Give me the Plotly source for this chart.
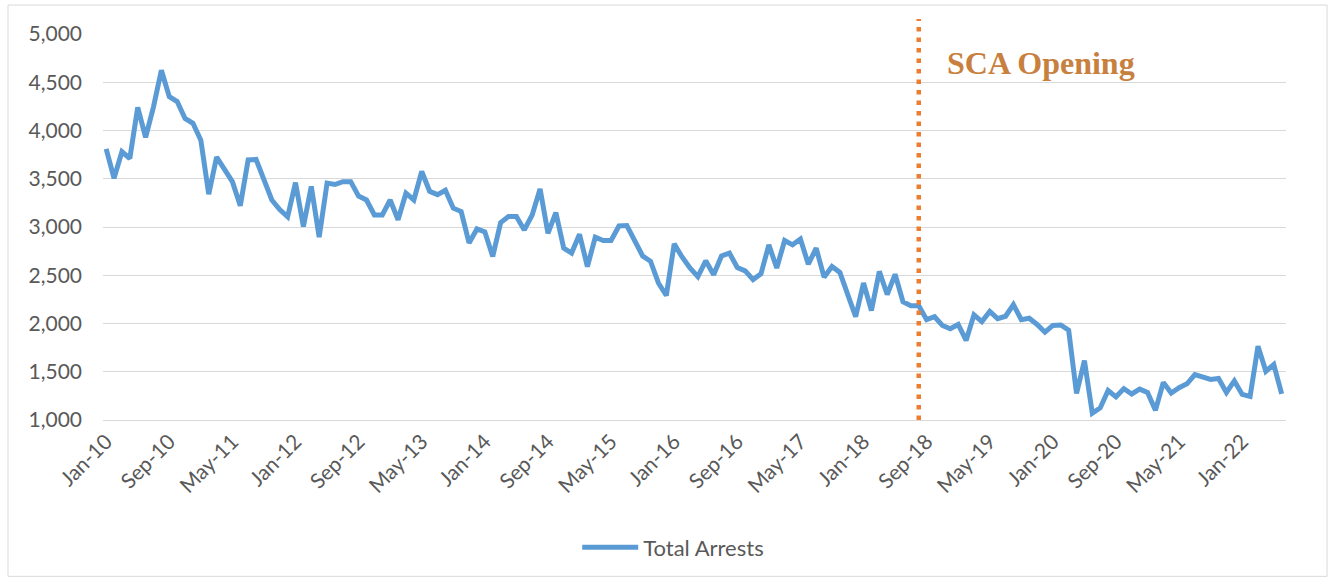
import pandas as pd
import plotly.graph_objects as go

# Monthly arrest totals, Jan-2010 through Jun-2022
months = pd.date_range("2010-01-01", periods=150, freq="MS").strftime("%b-%y").tolist()

total_arrests = [
    # 2010
    3810, 3505, 3780, 3710, 4240, 3930, 4245, 4625, 4350, 4300, 4125, 4075,
    # 2011
    3900, 3340, 3725, 3600, 3470, 3220, 3695, 3700, 3480, 3280, 3180, 3105,
    # 2012
    3460, 3005, 3420, 2895, 3455, 3440, 3470, 3470, 3320, 3280, 3125, 3125,
    # 2013
    3280, 3075, 3350, 3280, 3575, 3370, 3335, 3380, 3195, 3160, 2835, 2980,
    # 2014
    2950, 2695, 3045, 3110, 3110, 2970, 3125, 3395, 2935, 3150, 2780, 2730,
    # 2015
    2925, 2590, 2895, 2860, 2860, 3010, 3015, 2865, 2700, 2645, 2420, 2290,
    # 2016
    2825, 2690, 2575, 2485, 2650, 2505, 2700, 2730, 2580, 2545, 2455, 2515,
    # 2017
    2815, 2575, 2860, 2815, 2875, 2615, 2780, 2480, 2590, 2530, 2300, 2070,
    # 2018
    2420, 2135, 2540, 2300, 2510, 2225, 2185, 2185, 2040, 2070, 1980, 1945,
    # 2019
    1990, 1825, 2090, 2020, 2125, 2050, 2075, 2195, 2040, 2055, 1990, 1910,
    # 2020
    1980, 1985, 1930, 1275, 1615, 1070, 1125, 1305, 1240, 1325, 1270, 1320,
    # 2021
    1285, 1100, 1390, 1280, 1335, 1375, 1470, 1445, 1420, 1430, 1285, 1405,
    # 2022
    1265, 1245, 1765, 1505, 1575, 1270,
]

tick_step = 8                 # label every 8th month
event_month = "Aug-18"        # marker line for the SCA opening
event_label = "SCA Opening"
y_ticks = [1000, 1500, 2000, 2500, 3000, 3500, 4000, 4500, 5000]

x_idx = list(range(len(months)))
event_x = months.index(event_month)

label_font = dict(family="Lato", size=21, color="#595959")

fig = go.Figure()
fig.add_trace(go.Scatter(
    x=x_idx,
    y=total_arrests,
    mode="lines",
    name="Total Arrests",
    line=dict(color="#5B9BD5", width=5),
    customdata=months,
    hovertemplate="%{customdata}: %{y:,}<extra></extra>",
))

# dotted vertical marker
fig.add_shape(
    type="line", xref="x", yref="paper",
    x0=event_x, x1=event_x, y0=0, y1=1.039,
    line=dict(color="#ED7D31", width=4.5, dash="4.5px,6px"),
)
fig.add_annotation(
    x=event_x, xref="x", y=0.924, yref="paper",
    text="<b>" + event_label + "</b>",
    showarrow=False, xanchor="left", yanchor="middle", xshift=26,
    font=dict(family="Liberation Serif", size=32, color="#C8803F"),
)

# chart area border
fig.add_shape(
    type="rect", xref="paper", yref="paper",
    x0=-0.0803, x1=1.0347, y0=-0.405, y1=1.075,
    line=dict(color="#D9D9D9", width=1), fillcolor="rgba(0,0,0,0)", layer="below",
)

fig.update_layout(
    width=1333, height=582,
    margin=dict(l=103, r=47, t=34, b=162),
    plot_bgcolor="white", paper_bgcolor="white",
    showlegend=True,
    legend=dict(
        orientation="h", x=0.482, xanchor="center", y=-0.33, yanchor="middle",
        font=dict(family="Lato", size=22, color="#595959"),
        itemwidth=56,
    ),
)
fig.update_yaxes(
    range=[1000, 5000], tickvals=y_ticks, tickformat=",",
    showgrid=True, gridcolor="#D9D9D9", gridwidth=1,
    zeroline=False, showline=False, ticks="",
    ticklabelstandoff=20, tickfont=label_font,
)
fig.update_xaxes(
    range=[-0.4, len(months) - 1 + 0.55],
    tickvals=x_idx[::tick_step], ticktext=months[::tick_step],
    tickangle=-45, showgrid=False, zeroline=False,
    showline=True, linecolor="#D9D9D9", linewidth=1, ticks="",
    tickfont=label_font,
)

fig.write_html("out.html")
